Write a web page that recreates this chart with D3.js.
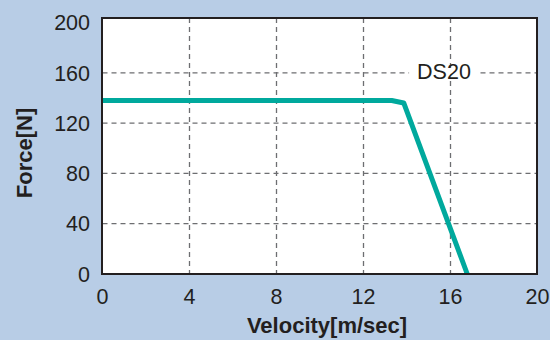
<!DOCTYPE html>
<html>
<head>
<meta charset="utf-8">
<script src="https://cdn.jsdelivr.net/npm/d3@7"></script>
<style>
  html, body { margin: 0; padding: 0; background: #b8cde6; }
  svg { display: block; }
  text { font-family: "Liberation Sans", Arial, sans-serif; fill: #231f20; }
</style>
</head>
<body>
<svg id="chart" width="550" height="340"></svg>
<script>
// Data
const velocity = [0, 13.3, 13.85, 16.77];
const force = [138, 138, 136, 0];
const xTicks = [0, 4, 8, 12, 16, 20];
const yTicks = [0, 40, 80, 120, 160, 200];
const seriesLabel = "DS20";
const labelPos = [15.7, 155];

const svg = d3.select("#chart");
const W = 550, H = 340;
svg.append("rect").attr("width", W).attr("height", H).attr("fill", "#b8cde6");

const x = d3.scaleLinear().domain([0, 20]).range([102.5, 537.5]);
const y = d3.scaleLinear().domain([0, 200]).range([274, 22.5]);

const frameTop = 18;

// plot background
svg.append("rect")
  .attr("x", x(0)).attr("y", frameTop)
  .attr("width", x(20) - x(0)).attr("height", y(0) - frameTop)
  .attr("fill", "#ffffff");

// grid
const grid = svg.append("g").attr("stroke", "#6d6e71").attr("stroke-width", 1.3)
  .attr("stroke-dasharray", "5,4");
grid.selectAll("line.v").data(xTicks.filter(d => d > 0 && d < 20)).join("line")
  .attr("x1", d => x(d)).attr("x2", d => x(d))
  .attr("y1", frameTop).attr("y2", y(0));
grid.selectAll("line.h").data(yTicks.filter(d => d > 0 && d < 200)).join("line")
  .attr("x1", x(0)).attr("x2", x(20))
  .attr("y1", d => y(d)).attr("y2", d => y(d));

// series label with white background
const lbl = svg.append("g");
const lt = lbl.append("text")
  .attr("x", x(labelPos[0])).attr("y", y(labelPos[1]))
  .attr("text-anchor", "middle").attr("font-size", 21.5)
  .text(seriesLabel);
const bb = lt.node().getBBox();
lbl.insert("rect", "text")
  .attr("x", bb.x - 8).attr("y", y(160) - 4).attr("width", bb.width + 16).attr("height", 8)
  .attr("fill", "#ffffff");

// line
const pts = velocity.map((v, i) => [v, force[i]]);
svg.append("path")
  .datum(pts)
  .attr("fill", "none")
  .attr("stroke", "#00a99d")
  .attr("stroke-width", 5)
  .attr("stroke-linejoin", "round")
  .attr("d", d3.line().x(d => x(d[0])).y(d => y(d[1])));

// frame
svg.append("rect")
  .attr("x", x(0) - 0.5).attr("y", frameTop)
  .attr("width", x(20) - x(0)).attr("height", y(0) - frameTop)
  .attr("fill", "none").attr("stroke", "#231f20").attr("stroke-width", 2);

// y tick labels
svg.append("g").selectAll("text").data(yTicks).join("text")
  .attr("x", 90).attr("y", d => y(d)).attr("dy", "0.36em")
  .attr("text-anchor", "end").attr("font-size", 21.5)
  .text(d => d);

// x tick labels
svg.append("g").selectAll("text").data(xTicks).join("text")
  .attr("x", d => x(d)).attr("y", 304)
  .attr("text-anchor", "middle").attr("font-size", 21.5)
  .text(d => d);

// axis titles
svg.append("text")
  .attr("x", 327).attr("y", 333)
  .attr("text-anchor", "middle").attr("font-size", 22).attr("font-weight", "bold")
  .text("Velocity[m/sec]");
svg.append("text")
  .attr("transform", "translate(31.5,153) rotate(-90)")
  .attr("text-anchor", "middle").attr("font-size", 22).attr("font-weight", "bold")
  .text("Force[N]");
</script>
</body>
</html>
